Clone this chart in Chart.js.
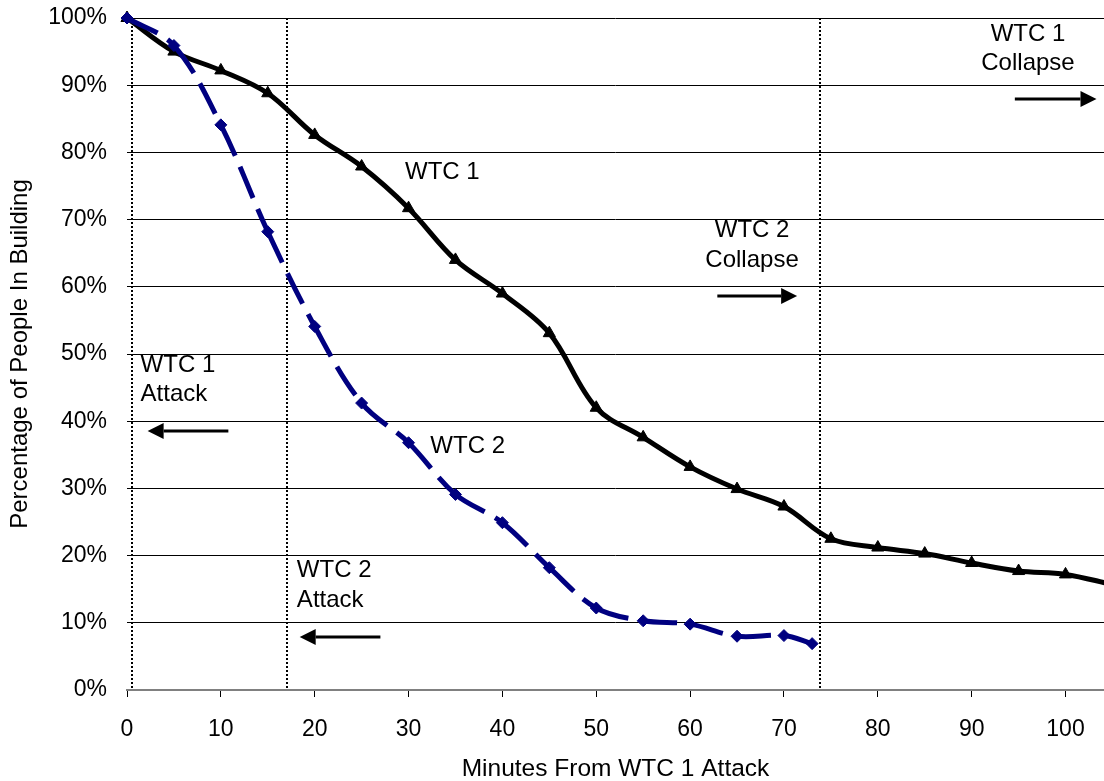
<!DOCTYPE html>
<html>
<head>
<meta charset="utf-8">
<title>WTC evacuation</title>
<script src="https://cdn.jsdelivr.net/npm/chart.js@4.4.0/dist/chart.umd.min.js"></script>
<style>
  html, body { margin: 0; padding: 0; background: #fff; overflow: hidden; }
  canvas { display: block; }
</style>
</head>
<body>
<canvas id="evacChart" width="1104" height="781"></canvas>
<script>
// minutes after the WTC 1 attack, and share of people still inside (%)
const wtc1Minutes = [0, 5, 10, 15, 20, 25, 30, 35, 40, 45, 50, 55, 60, 65, 70, 75, 80, 85, 90, 95, 100, 105]
const wtc1Remaining = [100, 95, 92.2, 88.8, 82.6, 77.9, 71.7, 64.0, 59.0, 53.1, 42.0, 37.6, 33.2, 29.9, 27.3, 22.5, 21.2, 20.3, 18.9, 17.7, 17.2, 15.7]

const wtc2Minutes = [0, 5, 10, 15, 20, 25, 30, 35, 40, 45, 50, 55, 60, 65, 70, 73]
const wtc2Remaining = [100, 95.9, 84.1, 68.2, 54.1, 42.7, 36.8, 29.1, 24.9, 18.2, 12.2, 10.3, 9.8, 8.0, 8.1, 6.9]

const xTicks = [0, 10, 20, 30, 40, 50, 60, 70, 80, 90, 100]
const yTicks = [0, 10, 20, 30, 40, 50, 60, 70, 80, 90, 100]

// attack / collapse times (dotted vertical lines)
const eventMinutes = [0.5, 17.1, 73.8]

// text notes and arrows, placed in data units
const notes = [
  { lines: ["WTC 1"], x: 33.6, y: [77.1], align: "center" },
  { lines: ["WTC 2"], x: 36.3, y: [36.2], align: "center" },
  { lines: ["WTC 2", "Collapse"], x: 66.6, y: [68.4, 63.9], align: "center" },
  { lines: ["WTC 1", "Collapse"], x: 96.0, y: [97.6, 93.3], align: "center" },
  { lines: ["WTC 1", "Attack"], x: 1.45, y: [48.3, 44.0], align: "left" },
  { lines: ["WTC 2", "Attack"], x: 18.1, y: [17.8, 13.4], align: "left" },
]
const arrows = [
  { from: 10.8, to: 2.2, y: 38.5 },
  { from: 27.0, to: 18.4, y: 7.9 },
  { from: 62.9, to: 71.4, y: 58.7 },
  { from: 94.6, to: 103.3, y: 88.0 },
]

const FONT = '"Liberation Sans", Arial, sans-serif'
Chart.defaults.font.family = FONT
Chart.defaults.color = "#000"

function drawArrow(ctx, x1, y, x2) {
  const dir = Math.sign(x2 - x1)
  const head = 16
  ctx.beginPath()
  ctx.moveTo(x1, y)
  ctx.lineTo(x2 - dir * head, y)
  ctx.lineWidth = 3
  ctx.stroke()
  ctx.beginPath()
  ctx.moveTo(x2, y)
  ctx.lineTo(x2 - dir * head, y - 8)
  ctx.lineTo(x2 - dir * head, y + 8)
  ctx.closePath()
  ctx.fill()
}

const eventPlugin = {
  id: "events",
  beforeDatasetsDraw(chart) {
    const { ctx, chartArea, scales } = chart
    ctx.save()
    ctx.strokeStyle = "#000"
    ctx.lineWidth = 2
    ctx.setLineDash([2, 2])
    eventMinutes.forEach((m) => {
      const px = Math.round(scales.x.getPixelForValue(m))
      ctx.beginPath()
      ctx.moveTo(px, chartArea.top)
      ctx.lineTo(px, chartArea.bottom)
      ctx.stroke()
    })
    ctx.restore()
  },
  afterDatasetsDraw(chart) {
    const { ctx, scales } = chart
    ctx.save()
    ctx.fillStyle = "#000"
    ctx.strokeStyle = "#000"
    ctx.font = "24px " + FONT
    ctx.textBaseline = "middle"
    notes.forEach((n) => {
      ctx.textAlign = n.align
      n.lines.forEach((t, i) => {
        ctx.fillText(t, scales.x.getPixelForValue(n.x), scales.y.getPixelForValue(n.y[i]))
      })
    })
    arrows.forEach((a) => {
      drawArrow(ctx, scales.x.getPixelForValue(a.from), Math.round(scales.y.getPixelForValue(a.y)), scales.x.getPixelForValue(a.to))
    })
    ctx.restore()
  },
}

// no extra room for label overflow: the plot area is fixed like the original
function noOverflow(s) {
  s.paddingLeft = 0
  s.paddingRight = 0
  s.paddingTop = 0
  s.paddingBottom = 0
}

const ctx = document.getElementById("evacChart").getContext("2d")
new Chart(ctx, {
  type: "line",
  data: {
    datasets: [
      {
        label: "WTC 2",
        data: wtc2Minutes.map((m, i) => ({ x: m, y: wtc2Remaining[i] })),
        borderColor: "#000080",
        backgroundColor: "#000080",
        borderWidth: 5,
        borderDash: [34, 12],
        borderCapStyle: "butt",
        // restart the dash pattern at every point, like the original
        segment: { borderDashOffset: (c) => c.p0DataIndex * 0.001 },
        pointStyle: "rectRot",
        pointRadius: 6,
        pointBorderWidth: 1,
        tension: 0.35,
        clip: false,
        order: 0,
      },
      {
        label: "WTC 1",
        data: wtc1Minutes.map((m, i) => ({ x: m, y: wtc1Remaining[i] })),
        borderColor: "#000",
        backgroundColor: "#000",
        borderWidth: 5,
        pointStyle: "triangle",
        pointRadius: 7,
        pointBorderWidth: 1,
        tension: 0.35,
        clip: false,
        order: 1,
      },
    ],
  },
  options: {
    responsive: false,
    animation: false,
    devicePixelRatio: 1,
    layout: { autoPadding: false, padding: { top: 18, right: 0, bottom: 0, left: 0 } },
    plugins: {
      legend: { display: false },
      tooltip: { enabled: false },
    },
    scales: {
      x: {
        type: "linear",
        min: 0,
        max: 104.1,
        afterFit: (s) => { s.height = 91; noOverflow(s) },
        afterBuildTicks: (s) => { s.ticks = xTicks.map((v) => ({ value: v })) },
        ticks: { color: "#000", font: { size: 23 }, padding: 19, maxRotation: 0 },
        grid: { drawOnChartArea: false, drawTicks: true, tickLength: 7, color: "#000" },
        border: { color: "#808080", width: 2 },
        title: {
          display: true,
          text: "Minutes From WTC 1 Attack",
          color: "#000",
          font: { size: 24.5, lineHeight: 1 },
          padding: { top: 0, bottom: 0 },
        },
      },
      y: {
        type: "linear",
        min: 0,
        max: 100,
        afterFit: (s) => { s.width = 127; noOverflow(s) },
        afterBuildTicks: (s) => { s.ticks = yTicks.map((v) => ({ value: v })) },
        ticks: { color: "#000", font: { size: 23 }, padding: 20, callback: (v) => v + "%" },
        grid: {
          drawTicks: false,
          lineWidth: 1,
          color: (c) => (c.tick && c.tick.value === 0 ? "rgba(0,0,0,0)" : "#000"),
        },
        border: { display: false },
        title: {
          display: true,
          text: "Percentage of People In Building",
          color: "#000",
          font: { size: 24, lineHeight: 1 },
          padding: { top: 8, bottom: 0 },
        },
      },
    },
  },
  plugins: [eventPlugin],
})
</script>
</body>
</html>
